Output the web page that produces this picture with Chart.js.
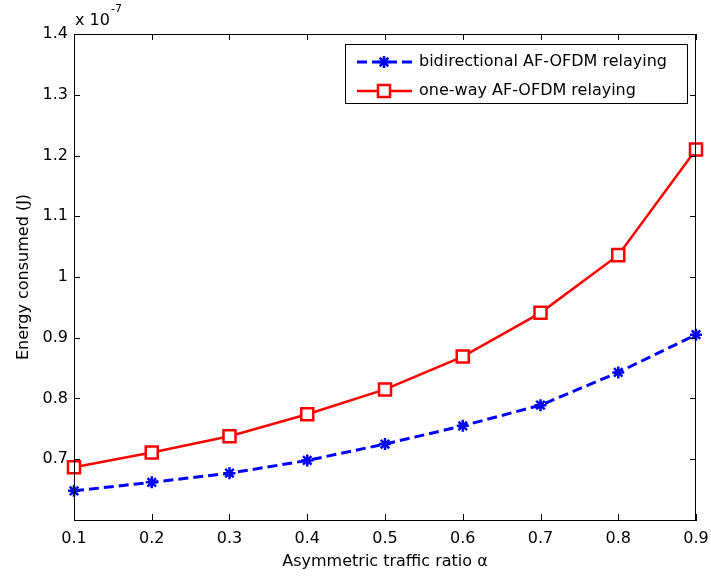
<!DOCTYPE html>
<html>
<head>
<meta charset="utf-8">
<script src="https://cdn.jsdelivr.net/npm/chart.js@4.4.0/dist/chart.umd.min.js"></script>
<style>
  html, body { margin: 0; padding: 0; background: #fff; }
  #wrap { width: 711px; height: 576px; }
</style>
</head>
<body>
<div id="wrap"><canvas id="chart" width="711" height="576"></canvas></div>
<script>
    // data (energy in units of 1e-7 J)
    const ratios = [0.1, 0.2, 0.3, 0.4, 0.5, 0.6, 0.7, 0.8, 0.9];
    const bidirectional = [0.648, 0.662, 0.677, 0.698, 0.725, 0.755, 0.789, 0.843, 0.905];
    const oneWay = [0.687, 0.711, 0.738, 0.774, 0.815, 0.869, 0.941, 1.036, 1.210];
    const xTicks = [0.1, 0.2, 0.3, 0.4, 0.5, 0.6, 0.7, 0.8, 0.9];
    const yTicks = [0.7, 0.8, 0.9, 1.0, 1.1, 1.2, 1.3, 1.4];
    const seriesNames = ['bidirectional AF-OFDM relaying', 'one-way AF-OFDM relaying'];

    const FONT = '"DejaVu Sans", Arial, sans-serif';

    function toPoints(ys) {
        return ratios.map((x, i) => ({ x: x, y: ys[i] }));
    }

    // box, inward ticks, exponent label and legend (matlab style)
    const matlabAxes = {
        id: 'matlabAxes',
        afterDraw(chart) {
            const ctx = chart.ctx;
            const a = chart.chartArea;
            const xs = chart.scales.x, ys = chart.scales.y;
            const tl = 6;
            ctx.save();
            ctx.strokeStyle = '#000';
            ctx.lineWidth = 1;
            ctx.beginPath();
            ctx.rect(a.left + 0.5, a.top + 0.5, a.right - a.left - 1, a.bottom - a.top);
            ctx.stroke();
            ctx.beginPath();
            xTicks.forEach(v => {
                const px = Math.round(xs.getPixelForValue(v)) + 0.5;
                ctx.moveTo(px, a.bottom); ctx.lineTo(px, a.bottom - tl);
                ctx.moveTo(px, a.top); ctx.lineTo(px, a.top + tl);
            });
            yTicks.forEach(v => {
                const py = Math.round(ys.getPixelForValue(v)) + 0.5;
                ctx.moveTo(a.left, py); ctx.lineTo(a.left + tl, py);
                ctx.moveTo(a.right, py); ctx.lineTo(a.right - tl, py);
            });
            ctx.stroke();

            // exponent
            ctx.fillStyle = '#000';
            ctx.textBaseline = 'middle';
            ctx.textAlign = 'left';
            ctx.font = '16px ' + FONT;
            ctx.fillText('x 10', 75, 21);
            const w = ctx.measureText('x 10').width;
            ctx.font = '11px ' + FONT;
            ctx.fillText('-7', 75 + w + 1, 9);

            // legend
            const lx = 345, ly = 44, lw = 342, lh = 59;
            ctx.fillStyle = '#fff';
            ctx.fillRect(lx, ly, lw, lh);
            ctx.strokeStyle = '#000';
            ctx.lineWidth = 1;
            ctx.strokeRect(lx + 0.5, ly + 0.5, lw, lh);
            const rows = [62, 91];
            chart.data.datasets.forEach((ds, i) => {
                const y = rows[i];
                ctx.save();
                ctx.strokeStyle = ds.borderColor;
                ctx.lineWidth = ds.borderWidth;
                ctx.setLineDash(ds.borderDash || []);
                ctx.beginPath();
                ctx.moveTo(357, y); ctx.lineTo(412, y);
                ctx.stroke();
                ctx.setLineDash([]);
                ctx.fillStyle = ds.pointBackgroundColor;
                ctx.strokeStyle = ds.pointBorderColor;
                ctx.lineWidth = ds.pointBorderWidth;
                Chart.helpers.drawPoint(ctx, { pointStyle: ds.pointStyle, radius: ds.pointRadius, borderWidth: ds.pointBorderWidth, rotation: 0 }, 384, y);
                ctx.restore();
                ctx.fillStyle = '#000';
                ctx.font = '16px ' + FONT;
                ctx.textAlign = 'left';
                ctx.textBaseline = 'middle';
                ctx.fillText(seriesNames[i], 419, y);
            });
            ctx.restore();
        }
    };

    new Chart(document.getElementById('chart').getContext('2d'), {
        type: 'line',
        data: {
            datasets: [
                {
                    label: seriesNames[0],
                    data: toPoints(bidirectional),
                    borderColor: '#0000ff',
                    borderWidth: 3,
                    borderDash: [10, 5],
                    pointStyle: 'star',
                    pointRadius: 6,
                    pointBorderWidth: 2.5,
                    pointBackgroundColor: '#0000ff',
                    pointBorderColor: '#0000ff',
                    tension: 0,
                    clip: false
                },
                {
                    label: seriesNames[1],
                    data: toPoints(oneWay),
                    borderColor: '#ff0000',
                    borderWidth: 2.5,
                    pointStyle: 'rect',
                    pointRadius: 8.5,
                    pointBorderWidth: 2.5,
                    pointBackgroundColor: '#ffffff',
                    pointBorderColor: '#ff0000',
                    tension: 0,
                    clip: false
                }
            ]
        },
        options: {
            responsive: false,
            animation: false,
            events: [],
            layout: { padding: { top: 34, right: 15, left: 0, bottom: 0 } },
            plugins: {
                legend: { display: false },
                tooltip: { enabled: false }
            },
            scales: {
                x: {
                    type: 'linear',
                    min: 0.1,
                    max: 0.9,
                    afterFit: s => { s.height = 56; s.paddingLeft = 0; s.paddingRight = 0; },
                    afterBuildTicks: s => { s.ticks = xTicks.map(v => ({ value: v })); },
                    grid: { display: false, drawTicks: false },
                    border: { display: true, color: '#000', width: 1 },
                    ticks: {
                        color: '#000',
                        padding: 9,
                        font: { family: FONT, size: 16 },
                        maxRotation: 0,
                        callback: v => v.toFixed(1)
                    },
                    title: {
                        display: true,
                        text: 'Asymmetric traffic ratio α',
                        color: '#000',
                        font: { family: FONT, size: 16 },
                        padding: { top: 0, bottom: 5 }
                    }
                },
                y: {
                    type: 'linear',
                    min: 0.6,
                    max: 1.4,
                    afterFit: s => { s.width = 74; s.paddingTop = 0; s.paddingBottom = 0; },
                    afterBuildTicks: s => { s.ticks = yTicks.map(v => ({ value: v })); },
                    grid: { display: false, drawTicks: false },
                    border: { display: true, color: '#000', width: 1 },
                    ticks: {
                        color: '#000',
                        padding: 6,
                        font: { family: FONT, size: 16 },
                        callback: v => (Math.abs(v - 1) < 1e-9 ? '1' : v.toFixed(1))
                    },
                    title: {
                        display: true,
                        text: 'Energy consumed (J)',
                        color: '#000',
                        font: { family: FONT, size: 16 },
                        padding: { top: 14, bottom: 0 }
                    }
                }
            }
        },
        plugins: [matlabAxes]
    });
</script>
</body>
</html>
